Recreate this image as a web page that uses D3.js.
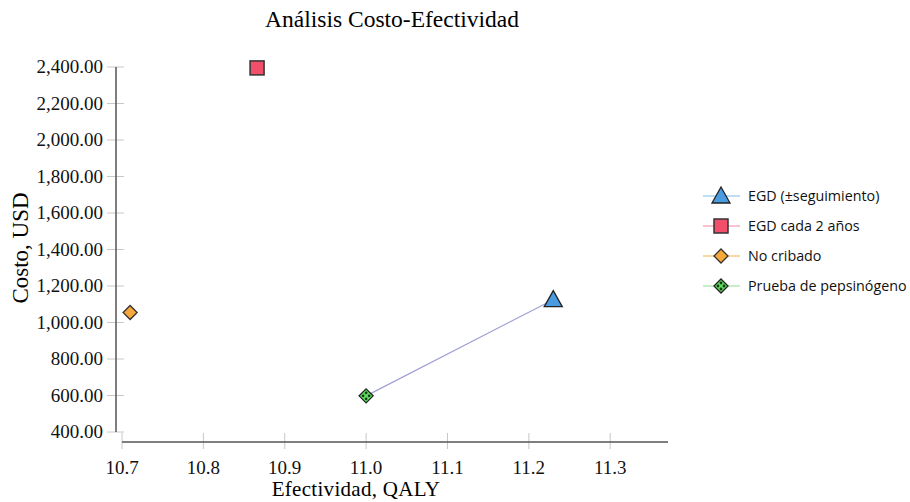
<!DOCTYPE html>
<html>
<head>
<meta charset="utf-8">
<script src="https://cdn.jsdelivr.net/npm/d3@7"></script>
<style>
  body { margin: 0; background: #fff; }
</style>
</head>
<body>
<div id="graf"></div>
<script>
// Datos
estrategias = ['EGD (±seguimiento)', 'EGD cada 2 años', 'No cribado', 'Prueba de pepsinógeno']
efectividad = [11.23, 10.866, 10.71, 11.0]
costo       = [1125, 2395, 1055, 598]
simbolos    = ['triangle', 'square', 'diamond', 'diamondDots']
rellenos    = ['#4a9be0', '#f2506a', '#f7a83a', '#5fe05f']
lineasLeyenda = ['#7fbde8', '#f08a9c', '#f5b24a', '#8fe08f']
// frontera: de la prueba de pepsinogeno al EGD (±seguimiento)
frontera    = [3, 0]
xTicks = [10.7, 10.8, 10.9, 11.0, 11.1, 11.2, 11.3]
yTicks = [400, 600, 800, 1000, 1200, 1400, 1600, 1800, 2000, 2200, 2400]

ancho_total = 910
alto_total = 502
serif = '"Liberation Serif", "Times New Roman", serif'

svg = d3.select('#graf').append('svg')
        .attr('width', ancho_total)
        .attr('height', alto_total)

// escalas
x = d3.scaleLinear().domain([10.7, 11.371]).range([122, 668])
y = d3.scaleLinear().domain([400, 2400]).range([432, 67])

ejeX_y = 442
ejeY_x = 116

// titulo
svg.append('text')
   .attr('x', 392).attr('y', 27)
   .attr('text-anchor', 'middle')
   .style('font-family', serif)
   .style('font-size', '23.5px')
   .text('Análisis Costo-Efectividad')

// eje Y
gy = svg.append('g')
gy.selectAll('line.tk').data(yTicks).enter().append('line')
  .attr('x1', ejeY_x - 9).attr('x2', ejeY_x + 8)
  .attr('y1', d => y(d)).attr('y2', d => y(d))
  .attr('stroke', '#c8c8c8')
gy.append('line')
  .attr('x1', ejeY_x).attr('x2', ejeY_x)
  .attr('y1', y(2400)).attr('y2', y(400))
  .attr('stroke', '#555').attr('stroke-width', 1.5)
gy.selectAll('text').data(yTicks).enter().append('text')
  .attr('x', 103).attr('y', d => y(d) + 6)
  .attr('text-anchor', 'end')
  .style('font-family', serif)
  .style('font-size', '19px')
  .style('fill', '#111')
  .text(d => d3.format(',.2f')(d))

// eje X
gx = svg.append('g')
gx.selectAll('line.tk').data(xTicks).enter().append('line')
  .attr('x1', d => x(d)).attr('x2', d => x(d))
  .attr('y1', ejeX_y - 9).attr('y2', ejeX_y + 7)
  .attr('stroke', '#c8c8c8')
gx.append('line')
  .attr('x1', x.range()[0]).attr('x2', x.range()[1])
  .attr('y1', ejeX_y).attr('y2', ejeX_y)
  .attr('stroke', '#555').attr('stroke-width', 1.5)
gx.selectAll('text').data(xTicks).enter().append('text')
  .attr('x', d => x(d)).attr('y', 474)
  .attr('text-anchor', 'middle')
  .style('font-family', serif)
  .style('font-size', '19px')
  .style('fill', '#111')
  .text(d => d3.format('.1f')(d))

// titulos de ejes
svg.append('text')
   .attr('x', 356).attr('y', 496)
   .attr('text-anchor', 'middle')
   .style('font-family', serif)
   .style('font-size', '21px')
   .style('letter-spacing', '0.3px')
   .text('Efectividad, QALY')

svg.append('text')
   .attr('transform', 'translate(28, 248) rotate(-90)')
   .attr('text-anchor', 'middle')
   .style('font-family', serif)
   .style('font-size', '23px')
   .text('Costo, USD')

// linea de frontera
svg.append('line')
   .attr('x1', x(efectividad[frontera[0]])).attr('y1', y(costo[frontera[0]]))
   .attr('x2', x(efectividad[frontera[1]])).attr('y2', y(costo[frontera[1]]))
   .attr('stroke', '#9f9fd4').attr('stroke-width', 1.2)

// dibujo de simbolos
function simbolo(g, tipo, color) {
  if (tipo == 'triangle') {
    g.append('path').attr('d', 'M0,-9 L9,7 L-9,7 Z')
     .attr('fill', color).attr('stroke', '#222').attr('stroke-width', 1.3)
  } else if (tipo == 'square') {
    g.append('rect').attr('x', -7).attr('y', -7).attr('width', 14).attr('height', 14)
     .attr('fill', color).attr('stroke', '#333').attr('stroke-width', 1.5)
  } else if (tipo == 'diamond') {
    g.append('path').attr('d', 'M0,-7 L7,0 L0,7 L-7,0 Z')
     .attr('fill', color).attr('stroke', '#333').attr('stroke-width', 1.3)
  } else {
    g.append('path').attr('d', 'M0,-7 L7,0 L0,7 L-7,0 Z')
     .attr('fill', color).attr('stroke', '#222').attr('stroke-width', 1.3)
    ;[[0, -3], [3, 0], [0, 3], [-3, 0]].forEach(p => {
      g.append('circle').attr('cx', p[0]).attr('cy', p[1]).attr('r', 1.4).attr('fill', '#1a3a1a')
    })
  }
}

estrategias.forEach((d, i) => {
  g = svg.append('g')
         .attr('transform', `translate(${x(efectividad[i])}, ${y(costo[i])})`)
  simbolo(g, simbolos[i], rellenos[i])
})

// Leyenda
leyenda = svg.append('g')
estrategias.forEach((d, i) => {
  ly = 196 + i * 30
  leyenda.append('line')
    .attr('x1', 703).attr('x2', 740).attr('y1', ly).attr('y2', ly)
    .attr('stroke', lineasLeyenda[i]).attr('stroke-width', 1.2)
  g = leyenda.append('g').attr('transform', `translate(721, ${ly})`)
  simbolo(g, simbolos[i], rellenos[i])
  leyenda.append('text')
    .attr('x', 748).attr('y', ly + 5)
    .style('font-family', '"Open Sans", "Noto Sans", sans-serif')
    .style('font-size', '14.3px')
    .style('fill', '#111')
    .text(d)
})
</script>
</body>
</html>
